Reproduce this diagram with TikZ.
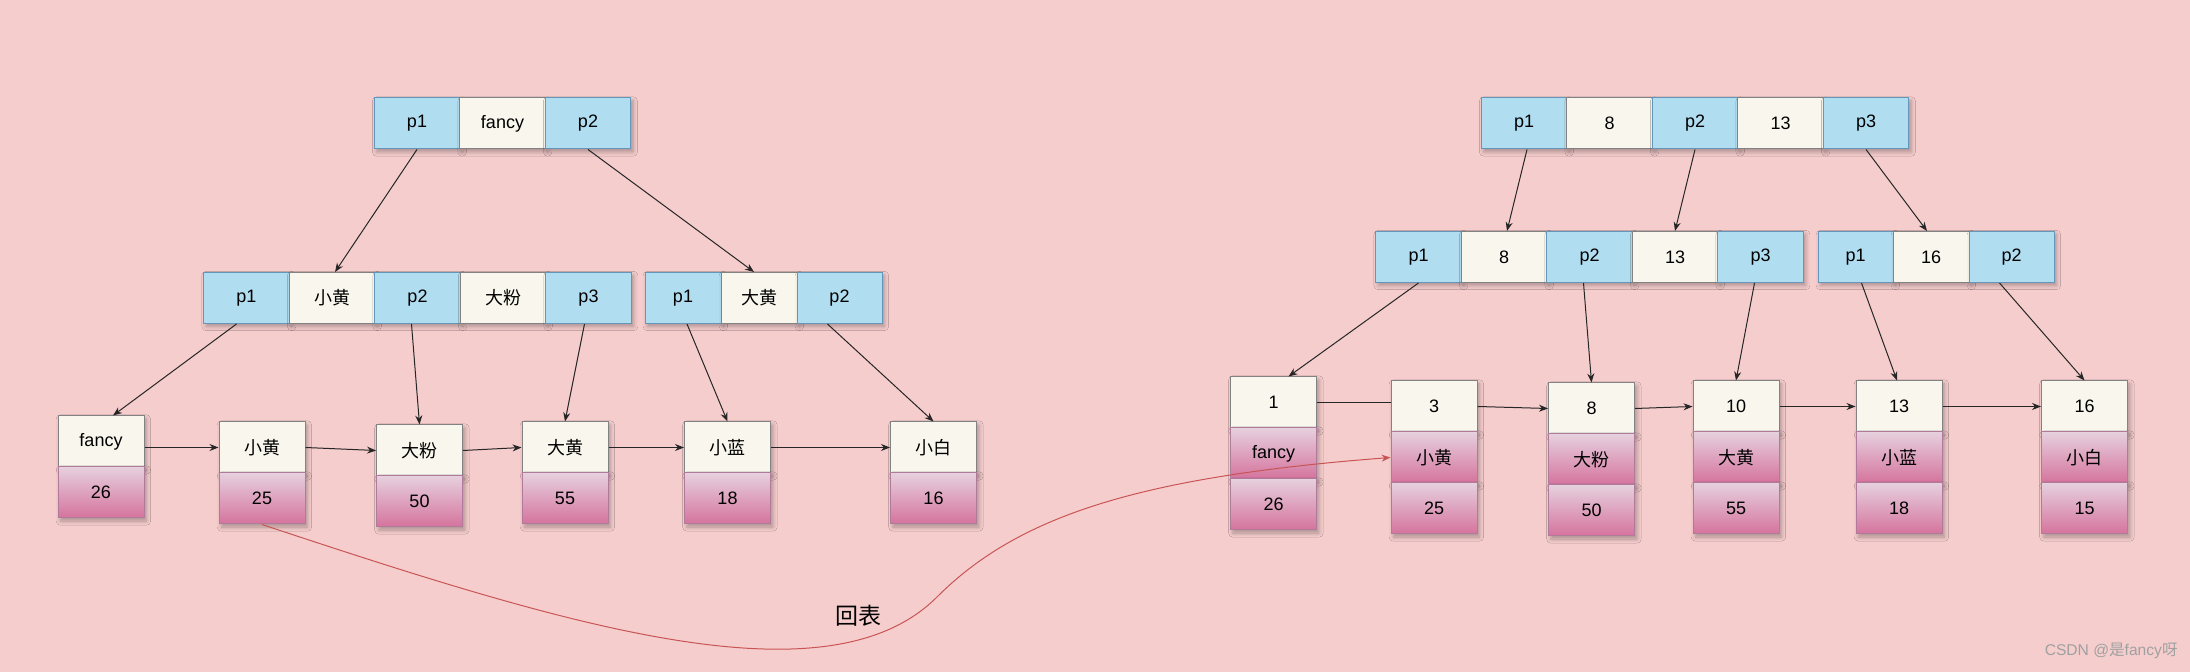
\documentclass[tikz,border=0pt]{standalone}
\usepackage{fontspec}
\setmainfont{Liberation Sans}
\newfontfamily\cjkfont{Noto Sans CJK SC}
\usetikzlibrary{arrows.meta,shadows.blur}
\definecolor{bgpink}{RGB}{246,205,205}
\definecolor{cellblue}{HTML}{B1DDF0}
\definecolor{bluestroke}{RGB}{100,150,185}
\definecolor{cellwhite}{HTML}{F9F7ED}
\definecolor{greystroke}{RGB}{130,130,130}
\definecolor{pinktop}{HTML}{E6D0DE}
\definecolor{pinkbot}{HTML}{D5739D}
\definecolor{pinkstroke}{HTML}{B07A9A}
\definecolor{curvered}{RGB}{200,85,85}
\definecolor{wmgrey}{RGB}{160,160,160}
\begin{document}
\begin{tikzpicture}[x=0.5pt,y=-0.5pt,
  cell/.style={rectangle, inner sep=0pt, minimum height=25.5pt, line width=0.5pt,
    font=\fontsize{9}{10}\selectfont,
    blur shadow={shadow xshift=1.2pt, shadow yshift=-1.5pt, shadow blur steps=4, shadow opacity=30}},
  bcell/.style={cell, fill=cellblue, draw=bluestroke, minimum width=42.75pt},
  wcell/.style={cell, fill=cellwhite, draw=greystroke, minimum width=42.75pt},
  kcell/.style={cell, fill=cellwhite, draw=greystroke, minimum width=43pt},
  vcell/.style={cell, top color=pinktop, bottom color=pinkbot, draw=pinkstroke, minimum width=43pt},
  link/.style={draw=black!85, line width=0.5pt, -{Stealth[length=4.5pt,width=3.5pt]}},
  plainlink/.style={draw=black!85, line width=0.5pt},
  backlink/.style={draw=curvered, line width=0.5pt, -{Stealth[length=4.5pt,width=3.5pt]}},
]
\useasboundingbox (0,0) rectangle (2190,672);
\fill[bgpink] (0,0) rectangle (2190,672);

% ---------- left tree ----------
\node[bcell] (lt1) at (417,123.5) {p1};
\node[wcell] (lt2) at (502.5,123.5) {fancy};
\node[bcell] (lt3) at (588,123.5) {p2};

\node[bcell] (la1) at (246.5,298) {p1};
\node[wcell] (la2) at (332,298) {\cjkfont 小黄};
\node[bcell] (la3) at (417.5,298) {p2};
\node[wcell] (la4) at (503,298) {\cjkfont 大粉};
\node[bcell] (la5) at (588.5,298) {p3};

\node[bcell, minimum width=38pt] (lb1) at (683,298) {p1};
\node[wcell, minimum width=38pt] (lb2) at (759,298) {\cjkfont 大黄};
\node[bcell, minimum width=42.5pt] (lb3) at (839.5,298) {p2};

\node[kcell] (L1k) at (101,441.5) {fancy};
\node[vcell] (L1v) at (101,492.5) {26};
\node[kcell] (L2k) at (262,447.5) {\cjkfont 小黄};
\node[vcell] (L2v) at (262,498.5) {25};
\node[kcell] (L3k) at (419.5,450.5) {\cjkfont 大粉};
\node[vcell] (L3v) at (419.5,501.5) {50};
\node[kcell] (L4k) at (565,447.5) {\cjkfont 大黄};
\node[vcell] (L4v) at (565,498.5) {55};
\node[kcell] (L5k) at (727.5,447.5) {\cjkfont 小蓝};
\node[vcell] (L5v) at (727.5,498.5) {18};
\node[kcell] (L6k) at (933.5,447.5) {\cjkfont 小白};
\node[vcell] (L6v) at (933.5,498.5) {16};

\draw[link] (lt1.south) -- ([xshift=1.5pt]la2.north);
\draw[link] (lt3.south) -- ([xshift=-2.5pt]lb2.north);
\draw[link] ([xshift=-5pt]la1.south) -- ([xshift=6pt]L1k.north);
\draw[link] ([xshift=-3pt]la3.south) -- (L3k.north);
\draw[link] ([xshift=-2pt]la5.south) -- (L4k.north);
\draw[link] ([xshift=2pt]lb1.south) -- (L5k.north);
\draw[link] ([xshift=-6pt]lb3.south) -- (L6k.north);

\draw[link] (L1k.east |- L2k.west) -- (L2k.west);
\draw[link] (L2k.east) -- (L3k.west);
\draw[link] (L3k.east) -- (L4k.west);
\draw[link] (L4k.east) -- (L5k.west);
\draw[link] (L5k.east) -- (L6k.west);

% ---------- right tree ----------
\node[bcell] (rt1) at (1524,123.5) {p1};
\node[wcell] (rt2) at (1609.5,123.5) {8};
\node[bcell] (rt3) at (1695,123.5) {p2};
\node[wcell] (rt4) at (1780.5,123.5) {13};
\node[bcell] (rt5) at (1866,123.5) {p3};

\node[bcell] (ra1) at (1418.5,257) {p1};
\node[wcell] (ra2) at (1504,257) {8};
\node[bcell] (ra3) at (1589.5,257) {p2};
\node[wcell] (ra4) at (1675,257) {13};
\node[bcell] (ra5) at (1760.5,257) {p3};

\node[bcell, minimum width=37.5pt] (rb1) at (1855.5,257) {p1};
\node[wcell, minimum width=38pt] (rb2) at (1931,257) {16};
\node[bcell, minimum width=42.5pt] (rb3) at (2011.5,257) {p2};

\node[kcell] (R1a) at (1273.5,402.5) {1};
\node[vcell] (R1b) at (1273.5,453.5) {fancy};
\node[vcell] (R1c) at (1273.5,504.5) {26};
\node[kcell] (R2a) at (1434,406.5) {3};
\node[vcell] (R2b) at (1434,457.5) {\cjkfont 小黄};
\node[vcell] (R2c) at (1434,508.5) {25};
\node[kcell] (R3a) at (1591.5,408.5) {8};
\node[vcell] (R3b) at (1591.5,459.5) {\cjkfont 大粉};
\node[vcell] (R3c) at (1591.5,510.5) {50};
\node[kcell] (R4a) at (1736,406.5) {10};
\node[vcell] (R4b) at (1736,457.5) {\cjkfont 大黄};
\node[vcell] (R4c) at (1736,508.5) {55};
\node[kcell] (R5a) at (1899,406.5) {13};
\node[vcell] (R5b) at (1899,457.5) {\cjkfont 小蓝};
\node[vcell] (R5c) at (1899,508.5) {18};
\node[kcell] (R6a) at (2084.5,406.5) {16};
\node[vcell] (R6b) at (2084.5,457.5) {\cjkfont 小白};
\node[vcell] (R6c) at (2084.5,508.5) {15};

\draw[link] ([xshift=1.5pt]rt1.south) -- ([xshift=1.5pt]ra2.north);
\draw[link] (rt3.south) -- (ra4.north);
\draw[link] (rt5.south) -- ([xshift=-2pt]rb2.north);
\draw[link] (ra1.south) -- ([xshift=7.5pt]R1a.north);
\draw[link] ([xshift=-3pt]ra3.south) -- (R3a.north);
\draw[link] ([xshift=-3pt]ra5.south) -- (R4a.north);
\draw[link] ([xshift=3pt]rb1.south) -- ([xshift=-1pt]R5a.north);
\draw[link] ([xshift=-6pt]rb3.south) -- (R6a.north);

\draw[plainlink] (R1a.east) -- (R1a.east -| R2a.west);
\draw[link] (R2a.east) -- (R3a.west);
\draw[link] (R3a.east) -- (R4a.west);
\draw[link] (R4a.east) -- (R5a.west);
\draw[link] (R5a.east) -- (R6a.west);

% ---------- back-to-table curve ----------
\draw[backlink] (L2v.south) .. controls (562,624) and (827,707) .. (937,597)
  .. controls (1017,517) and (1136,477) .. (R2b.west);
\node[font=\cjkfont\fontsize{11.5}{13}\selectfont] (huibiao) at (858,616) {回表};

% ---------- watermark ----------
\node[anchor=east, text=wmgrey, font=\fontsize{7.8}{9}\selectfont, inner sep=0pt] (wm) at (2178,651)
  {CSDN @{\cjkfont 是}fancy{\cjkfont 呀}};
\end{tikzpicture}
\end{document}
